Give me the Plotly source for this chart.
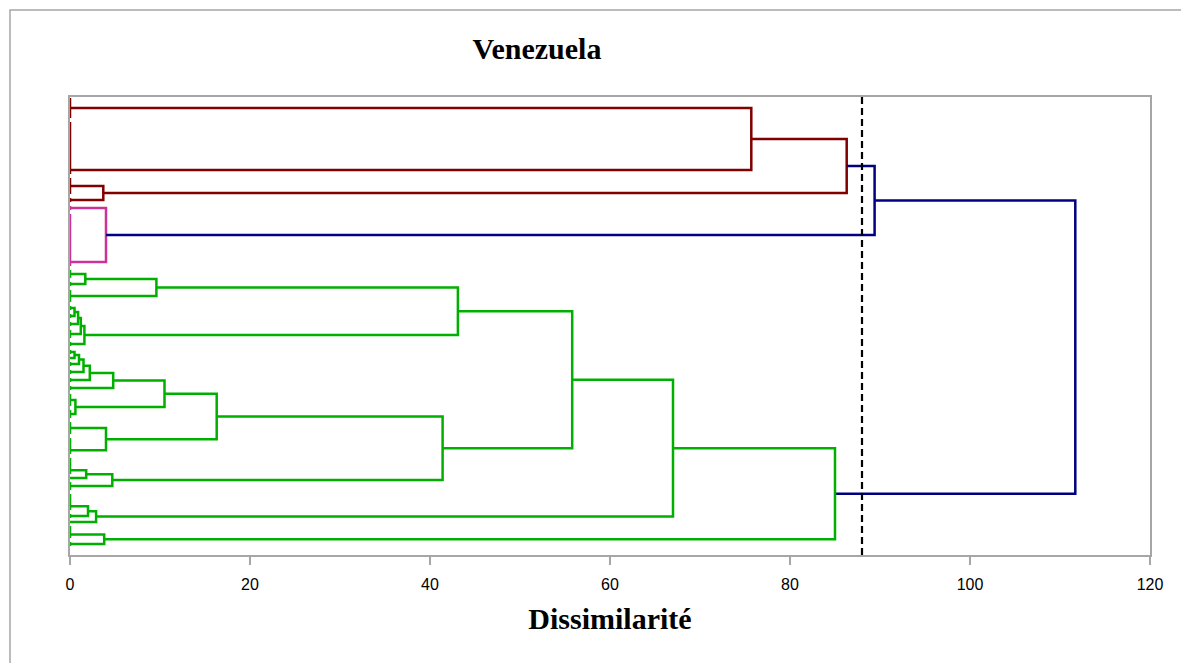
import plotly.graph_objects as go

# ---- data ----
# zero-dissimilarity leaf groups, listed top to bottom
group_names = ["G1", "G2", "G3a", "G3b", "P1", "P2", "Ga1", "Ga2", "Gb",
               "c1", "c2", "c3", "c4", "c5", "d1", "d2", "d3", "d4", "d5", "d6",
               "e1", "e2", "f1", "f2", "g1", "g2", "g3", "h1", "h2", "h3", "j1", "j2"]
group_sizes = [6, 14, 5, 2, 2, 14, 3, 2, 4,
               2, 2, 2, 3, 2, 2, 1, 2, 2, 2, 2,
               4, 3, 4, 5, 5, 1, 3, 5, 2, 1, 4, 2]
group_chained = [False, True, False, False, False, True, False, False, False,
                 False, False, False, False, False, False, False, False, False, False, False,
                 False, False, False, True, True, False, False, True, False, False, True, False]

# agglomeration steps: (name, upper child, lower child, dissimilarity)
merge_names = ["r1", "r2", "r3", "p1", "b1", "ga", "g96", "m1", "m2", "m3", "m4", "g431",
               "s1", "s2", "s3", "s4", "s5", "e", "n105", "f", "n163", "n18", "n47",
               "n414", "n558", "n20", "n29", "n670", "n38", "n850", "root"]
merge_left = ["G1", "G3a", "r1", "P1", "r3", "Ga1", "ga", "c1", "m1", "m2", "m3", "g96",
              "d1", "s1", "s2", "s3", "s4", "e1", "s5", "f1", "n105", "g1", "n18",
              "n163", "g431", "h1", "n20", "n558", "j1", "n670", "b1"]
merge_right = ["G2", "G3b", "r2", "P2", "p1", "Ga2", "Gb", "c2", "c3", "c4", "c5", "m4",
               "d2", "d3", "d4", "d5", "d6", "e2", "e", "f2", "f", "g2", "g3",
               "n47", "n414", "h2", "h3", "n29", "j2", "n38", "n850"]
merge_height = [75.7, 3.7, 86.3, 4.0, 89.4, 1.7, 9.6, 0.5, 0.9, 1.2, 1.6, 43.1,
                0.5, 1.0, 1.5, 2.2, 4.8, 0.6, 10.5, 4.0, 16.3, 1.8, 4.7,
                41.4, 55.8, 2.0, 2.9, 67.0, 3.8, 85.0, 111.7]

cut_height = 88.0
cluster_colors = ["#800000", "#CC3399", "#00B000"]
above_cut_color = "#000080"
x_ticks = [0, 20, 40, 60, 80, 100, 120]
title_text = "Venezuela"
x_title = "Dissimilarité"

# ---- build dendrogram geometry from the data ----
pos, hgt, span, children = {}, {}, {}, {}
start = 0
for name, n, chained in zip(group_names, group_sizes, group_chained):
    leaves = list(range(start, start + n))
    if chained:
        p = leaves[0]
        for lf in leaves[1:]:
            p = (p + lf) / 2
    else:
        p = (leaves[0] + leaves[-1]) / 2
    pos[name], hgt[name], span[name] = p, 0.0, (leaves[0], leaves[-1])
    start += n
n_leaves = start

for m, l, r, h in zip(merge_names, merge_left, merge_right, merge_height):
    pos[m] = (pos[l] + pos[r]) / 2
    hgt[m] = h
    children[m] = (l, r)

color_of = {}
cidx = [0]


def assign(node, color):
    if hgt[node] > cut_height:
        color = above_cut_color
    elif color is None or color == above_cut_color:
        color = cluster_colors[cidx[0] % len(cluster_colors)]
        cidx[0] += 1
    color_of[node] = color
    if node in children:
        for ch in children[node]:
            assign(ch, color)


assign("root", None)

segs = {}
for m in merge_names:
    l, r = children[m]
    c = color_of[m]
    xs, ys = segs.setdefault(c, ([], []))
    xs += [hgt[l], hgt[m], hgt[m], hgt[r], None]
    ys += [pos[l], pos[l], pos[r], pos[r], None]
for g in group_names:
    a, b = span[g]
    if b > a:
        c = color_of[g]
        xs, ys = segs.setdefault(c, ([], []))
        xs += [0, 0, None]
        ys += [a, b, None]

fig = go.Figure()
for c, (xs, ys) in segs.items():
    fig.add_trace(go.Scatter(x=xs, y=ys, mode="lines",
                             line=dict(color=c, width=2.5),
                             hoverinfo="skip", showlegend=False))

# cut line
fig.add_shape(type="line", xref="x", yref="paper", x0=cut_height, x1=cut_height,
              y0=0, y1=1, line=dict(color="black", width=2.2, dash="7px,4px"))

# page body offset is 8px; figure laid out so plot spans px 70..1150 x 97..555
OFF = 8
W, H = 1189 - OFF, 663 - OFF
L, R, T, B = 70 - OFF, 1150 - OFF, 97 - OFF, 555 - OFF

# outer chart frame
fig.add_shape(type="rect", xref="paper", yref="paper",
              x0=(2 - L) / (R - L), x1=(W + 10 - L) / (R - L),
              y0=(B - (H + 10)) / (B - T), y1=(B - 2) / (B - T),
              line=dict(color="#A6A6A6", width=1.5), layer="below")

grey = "#A6A6A6"
fig.update_layout(
    width=W, height=H,
    margin=dict(l=L, r=W - R, t=T, b=H - B),
    paper_bgcolor="white", plot_bgcolor="white",
    showlegend=False,
    title=dict(text="<b>" + title_text + "</b>", x=(537 - OFF) / W, xanchor="center",
               y=1 - (48 - OFF) / H, yanchor="middle",
               font=dict(family="Liberation Serif, Times New Roman, serif", size=30, color="black")),
    xaxis=dict(range=[0, 120], tickvals=x_ticks, ticktext=[str(v) for v in x_ticks],
               ticks="outside", ticklen=8, tickwidth=1.5, tickcolor=grey,
               ticklabelstandoff=6,
               showline=True, linecolor=grey, linewidth=2, mirror=True,
               showgrid=False, zeroline=False,
               tickfont=dict(family="Liberation Sans Narrow, Arial Narrow, Liberation Sans, sans-serif",
                             size=16, color="black"),
               title=dict(text="<b>" + x_title + "</b>", standoff=16,
                          font=dict(family="Liberation Serif, Times New Roman, serif", size=30,
                                    color="black"))),
    yaxis=dict(range=[n_leaves + 1.25, -0.25], showticklabels=False, ticks="",
               showline=True, linecolor=grey, linewidth=1.5, mirror=True,
               showgrid=False, zeroline=False),
)

fig.write_html("out.html")
